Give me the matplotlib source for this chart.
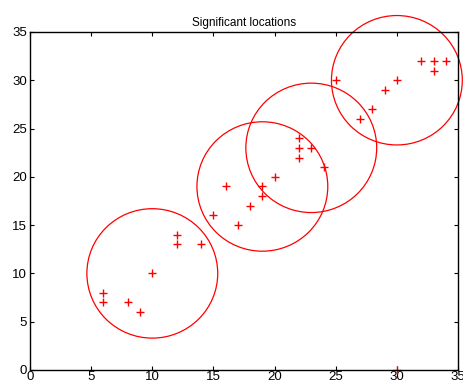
import numpy as np
import matplotlib
matplotlib.use("Agg")
import matplotlib.pyplot as plt
from matplotlib.patches import Ellipse

plt.rcParams["font.family"] = ["Liberation Sans", "DejaVu Sans"]

# detected locations
xs = [6, 6, 8, 9, 10, 12, 12, 14, 15, 16, 17, 18, 19, 19, 20,
      22, 22, 22, 23, 24, 25, 27, 28, 29, 30, 32, 33, 33, 34, 30]
ys = [8, 7, 7, 6, 10, 14, 13, 13, 16, 19, 15, 17, 19, 18, 20,
      24, 23, 22, 23, 21, 30, 26, 27, 29, 30, 32, 32, 31, 32, 0]

# cluster centres
cx = [10, 19, 23, 30]
cy = [10, 19, 23, 30]
rx = 5.35
ry = 6.7

fig = plt.figure(figsize=(4.64, 3.85), dpi=100)
ax = fig.add_axes([0.0647, 0.039, 0.9224, 0.878])

ax.plot(xs, ys, "r+", markersize=6, markeredgewidth=1.0, clip_on=False)
for x0, y0 in zip(cx, cy):
    ax.add_patch(Ellipse((x0, y0), 2 * rx, 2 * ry, fill=False,
                         edgecolor="red", linewidth=0.9, clip_on=False))

ax.set_xlim(0, 35)
ax.set_ylim(0, 35)
ax.set_xticks(np.arange(0, 36, 5))
ax.set_yticks(np.arange(0, 36, 5))
ax.tick_params(direction="in", top=True, right=True, labelsize=9.5, length=3)
ax.tick_params(axis="x", pad=1)
ax.tick_params(axis="y", pad=2)
for s in ax.spines.values():
    s.set_linewidth(1.0)
ax.set_title("Significant locations", fontsize=8.5, pad=4)

fig.savefig("out.png", dpi=100)
